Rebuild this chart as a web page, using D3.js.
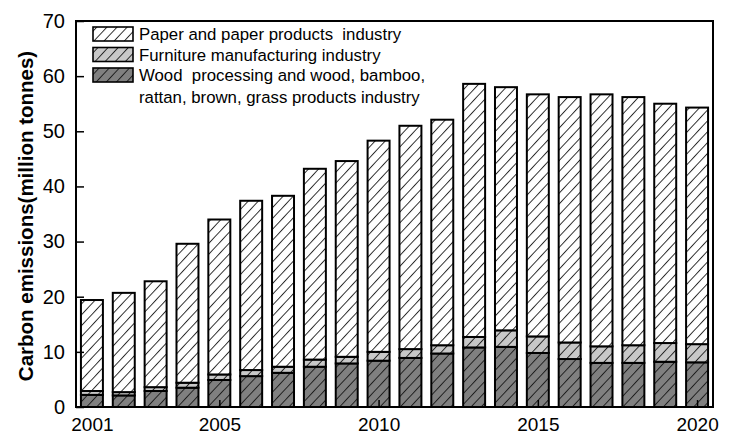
<!DOCTYPE html>
<html>
<head>
<meta charset="utf-8">
<script src="https://cdn.jsdelivr.net/npm/d3@7/dist/d3.min.js"></script>
<style>
  html, body { margin: 0; padding: 0; background: #fff; }
  svg { display: block; }
  text { font-family: "Liberation Sans", Arial, sans-serif; }
</style>
</head>
<body>
<script>
// ---- data ----
const years = [2001,2002,2003,2004,2005,2006,2007,2008,2009,2010,2011,2012,2013,2014,2015,2016,2017,2018,2019,2020];
const wood      = [2.2,2.1,2.9,3.5,4.9,5.6,6.2,7.3,7.9,8.4,8.9,9.7,10.8,10.9,9.8,8.7,8.0,8.0,8.2,8.1];
const furniture = [0.7,0.6,0.7,0.9,1.0,1.1,1.1,1.3,1.2,1.6,1.6,1.5,1.9,3.0,3.0,3.0,3.0,3.2,3.4,3.3];
const paper     = [16.5,18.0,19.2,25.2,28.1,30.7,31.0,34.6,35.5,38.3,40.5,40.9,45.9,44.1,43.9,44.5,45.7,45.0,43.4,42.9];
const seriesNames = ["Wood  processing and wood, bamboo,\nrattan, brown, grass products industry", "Furniture manufacturing industry", "Paper and paper products  industry"];
const xTickValues = [2001,2005,2010,2015,2020];
const yTickValues = [0,10,20,30,40,50,60,70];
const yTitle = "Carbon emissions(million tonnes)";

const W = 732, H = 437;
const svg = d3.select("body").append("svg").attr("width", W).attr("height", H);

const x = d3.scaleLinear().domain([2000.5, 2020.5]).range([76, 713]);
const y = d3.scaleLinear().domain([0, 70]).range([407, 21]);
const bw = (x(1) - x(0)) * 0.69;

// hatch patterns
const defs = svg.append("defs");
const fills = ["#808080", "#c8c8c8", "#ffffff"];
fills.forEach((c, i) => {
  const p = defs.append("pattern").attr("id", "h" + i)
    .attr("patternUnits", "userSpaceOnUse")
    .attr("width", 7.4).attr("height", 20)
    .attr("patternTransform", "rotate(43)");
  p.append("rect").attr("width", 7.4).attr("height", 20).attr("fill", c);
  p.append("line").attr("x1", 0.5).attr("y1", 0).attr("x2", 0.5).attr("y2", 20)
    .attr("stroke", "#111").attr("stroke-width", 0.9);
});

// stack
const rows = years.map((yr, i) => ({year: yr, wood: wood[i], furniture: furniture[i], paper: paper[i]}));
const stack = d3.stack().keys(["wood", "furniture", "paper"])(rows);

const g = svg.append("g");
stack.forEach((layer, li) => {
  g.selectAll(null).data(layer).enter().append("rect")
    .attr("x", d => x(d.data.year) - bw / 2)
    .attr("width", bw)
    .attr("y", d => y(d[1]))
    .attr("height", d => y(d[0]) - y(d[1]))
    .attr("fill", "url(#h" + li + ")")
    .attr("stroke", "#000")
    .attr("stroke-width", 2);
});

// axes
const xAxis = svg.append("g").attr("transform", `translate(0,${y(0)})`)
  .call(d3.axisBottom(x).tickValues(xTickValues).tickFormat(d3.format("d")).tickSizeInner(-7).tickSizeOuter(0).tickPadding(11));
xAxis.select(".domain").remove();
xAxis.selectAll(".tick line").attr("stroke", "#000").attr("stroke-width", 1.5)
  .filter(d => d === 2001).remove();
xAxis.selectAll(".tick text").attr("font-size", 19).attr("fill", "#000")
  .attr("font-family", "Liberation Sans, Arial, sans-serif");

const yAxis = svg.append("g").attr("transform", `translate(${x.range()[0]},0)`)
  .call(d3.axisLeft(y).tickValues(yTickValues).tickSizeInner(-8).tickSizeOuter(0).tickPadding(11));
yAxis.select(".domain").remove();
yAxis.selectAll(".tick line").attr("stroke", "#000").attr("stroke-width", 1.5);
yAxis.selectAll(".tick text").attr("font-size", 20).attr("fill", "#000")
  .attr("font-family", "Liberation Sans, Arial, sans-serif");

// frame
svg.append("rect")
  .attr("x", x.range()[0]).attr("y", y(70))
  .attr("width", x.range()[1] - x.range()[0]).attr("height", y(0) - y(70))
  .attr("fill", "none").attr("stroke", "#000").attr("stroke-width", 2);

// y title
svg.append("text")
  .attr("transform", `translate(33,${(y(0) + y(70)) / 2 + 2}) rotate(-90)`)
  .attr("text-anchor", "middle")
  .attr("font-size", 20.5).attr("font-weight", "bold")
  .text(yTitle);

// legend
const legendOrder = [2, 1, 0];
const rowY = [34, 54.5, 75];
const leg = svg.append("g");
legendOrder.forEach((si, k) => {
  leg.append("rect").attr("x", 93).attr("y", rowY[k] - 7).attr("width", 40).attr("height", 14)
    .attr("fill", "url(#h" + si + ")").attr("stroke", "#000").attr("stroke-width", 1.6);
  const lines = seriesNames[si].split("\n");
  lines.forEach((ln, j) => {
    leg.append("text").attr("x", 139).attr("y", rowY[k] + 6 + j * 22)
      .attr("font-size", 16.8).style("white-space", "pre").text(ln);
  });
});
</script>
</body>
</html>
